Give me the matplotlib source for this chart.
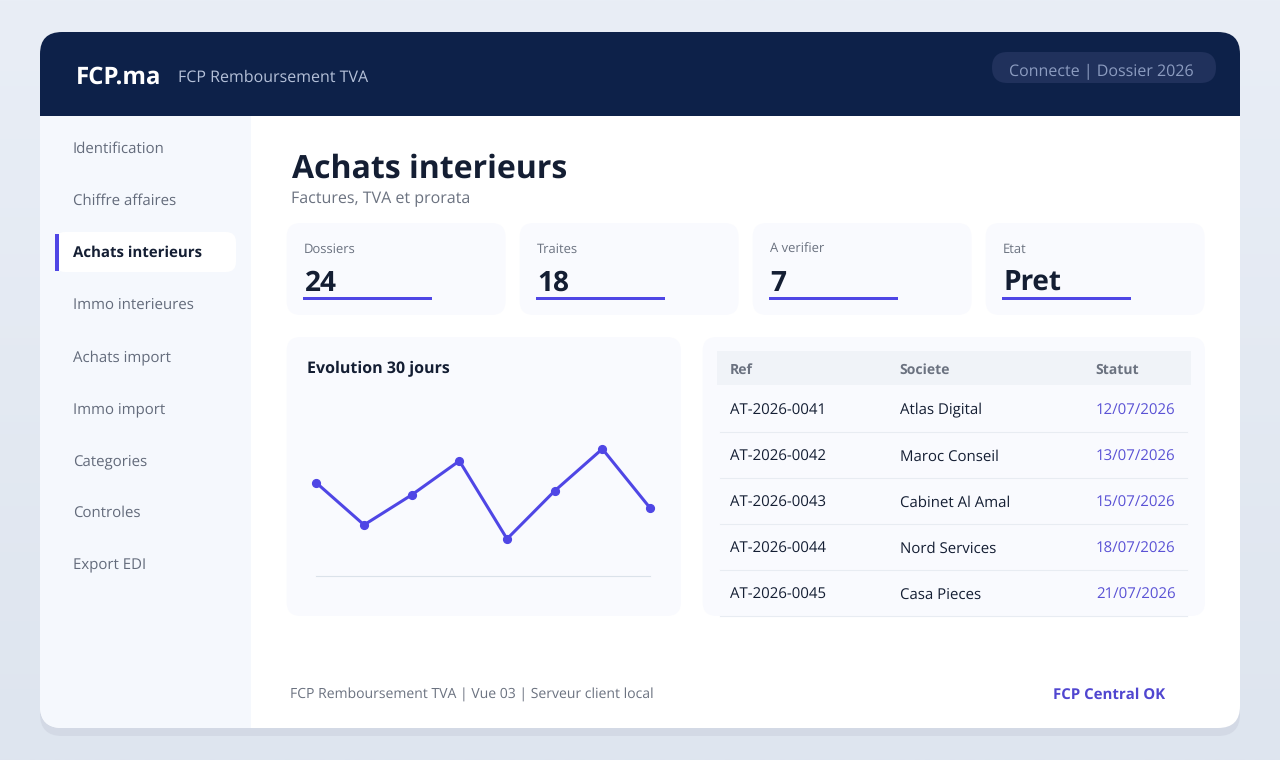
import numpy as np
import matplotlib
matplotlib.use('Agg')
import matplotlib.pyplot as plt
from matplotlib.patches import FancyBboxPatch, Rectangle

plt.rcParams['font.family'] = ['Open Sans', 'DejaVu Sans']
plt.rcParams['text.hinting'] = 'no_hinting'
plt.rcParams['text.hinting_factor'] = 1

# data
nav_items = ['Identification', 'Chiffre affaires', 'Achats interieurs', 'Immo interieures',
             'Achats import', 'Immo import', 'Categories', 'Controles', 'Export EDI']
active_nav = 'Achats interieurs'
kpi_labels = ['Dossiers', 'Traites', 'A verifier', 'Etat']
kpi_values = ['24', '18', '7', 'Pret']
days = [0, 1, 2, 3, 4, 5, 6, 7]
evolution = [93.5, 51.5, 81.5, 115.5, 37.5, 85.5, 127.5, 68.5]
table_head = ['Ref', 'Societe', 'Statut']
refs = ['AT-2026-0041', 'AT-2026-0042', 'AT-2026-0043', 'AT-2026-0044', 'AT-2026-0045']
societes = ['Atlas Digital', 'Maroc Conseil', 'Cabinet Al Amal', 'Nord Services', 'Casa Pieces']
dates = ['12/07/2026', '13/07/2026', '15/07/2026', '18/07/2026', '21/07/2026']

NAVY = '#0d2149'
INDIGO = '#4f46e5'
INK = '#141e33'
GREY = '#6b7280'
CARD = '#f9fafe'


def px(size):
    return size * 0.72


fig = plt.figure(figsize=(12.8, 7.6), dpi=100)
ax = fig.add_axes([0, 0, 1, 1])
ax.set_xlim(0, 1280)
ax.set_ylim(760, 0)
ax.axis('off')

# page background
grad = np.linspace(0, 1, 256).reshape(-1, 1)
top = np.array([0xe9, 0xee, 0xf6]) / 255
bot = np.array([0xde, 0xe5, 0xef]) / 255
ax.imshow(top + (bot - top) * grad[:, :, None], extent=[0, 1280, 760, 0], aspect='auto', zorder=0)
ax.set_xlim(0, 1280)
ax.set_ylim(760, 0)


def rbox(x, y, w, h, r, color, z=2):
    p = FancyBboxPatch((x + r, y + r), w - 2 * r, h - 2 * r, boxstyle='round,pad=%g,rounding_size=%g' % (r, r),
                       fc=color, ec='none', lw=0, zorder=z)
    ax.add_patch(p)
    return p


def label(x, y, s, color, size, bold=False, ha='left'):
    # y is the text baseline in pixels
    ax.text(x, y, s, color=color, fontsize=px(size), fontweight='bold' if bold else 'normal',
            va='baseline', ha=ha, zorder=7)


# shell
rbox(40, 40, 1200, 696, 22, '#d3d9e5', 1)
shell = rbox(40, 32, 1200, 696, 22, '#ffffff', 2)

side = Rectangle((40, 116), 211, 612, fc='#f5f8fd', ec='none', zorder=3)
ax.add_patch(side)
side.set_clip_path(shell)
head = Rectangle((40, 32), 1200, 84, fc=NAVY, ec='none', zorder=3)
ax.add_patch(head)
head.set_clip_path(shell)

# header
label(76, 83.5, 'FCP.ma', 'white', 24.4, True)
label(178, 82, 'FCP Remboursement TVA', '#b4c0d8', 16.25)
rbox(992, 52, 224, 31, 15.5, '#20315c', 4)
label(1101.5, 76, 'Connecte | Dossier 2026', '#8c9cc0', 15.6, ha='center')

# sidebar
rbox(55, 232, 181, 40, 10, '#ffffff', 4)
ax.add_patch(Rectangle((55, 234), 4, 37, fc=INDIGO, ec='none', zorder=5))
for i, name in enumerate(nav_items):
    on = name == active_nav
    label(73, 153 + 52 * i, name, INK if on else '#636b7b', 14.6, on)

# title
label(292, 177.5, 'Achats interieurs', INK, 32.4, True)
label(291, 203, 'Factures, TVA et prorata', GREY, 16.25)

# kpi cards
for i, (lab, val) in enumerate(zip(kpi_labels, kpi_values)):
    x = 286.6 + 233 * i
    rbox(x, 223, 219, 92, 14, CARD, 4)
    label(x + 17.4, 253, lab, GREY, 13.3)
    label(x + 18, 291, val, INK, 27.5, True)
    ax.add_patch(Rectangle((x + 15.9, 296.5), 129, 3, fc=INDIGO, ec='none', zorder=8))

# chart card
rbox(286.6, 337, 394.4, 279, 14, CARD, 4)
label(307, 372.7, 'Evolution 30 jours', INK, 16.2, True)

ch = fig.add_axes([316.4 / 1280, 1 - 576.4 / 760, 333.6 / 1280, 180 / 760])
ch.patch.set_alpha(0)
ch.plot(days, evolution, color=INDIGO, lw=2.2, marker='o', ms=5.6, clip_on=False, solid_joinstyle='miter')
ch.set_xlim(0, 7)
ch.set_ylim(0, 180)
ch.set_xticks([])
ch.set_yticks([])
for s in ['top', 'left', 'right']:
    ch.spines[s].set_visible(False)
ch.spines['bottom'].set_color('#dbe2ea')
ch.spines['bottom'].set_linewidth(0.8)

# table card
rbox(702.6, 337, 502.4, 279, 14, CARD, 4)
ax.add_patch(Rectangle((717, 351), 474, 34, fc='#f0f3f8', ec='none', zorder=5))
for x, name in zip([730, 899.5, 1095.5], table_head):
    label(x, 373.5, name, GREY, 13.6, True)
for i in range(len(refs)):
    y = 414.4 + 46 * i
    label(730, y, refs[i], INK, 14.55)
    label(900, y, societes[i], INK, 14.55)
    label(1096, y, dates[i], '#5a52d5', 14.5)
    ax.plot([720, 1187], [y + 17.6, y + 17.6], color='#e8ecf2', lw=0.8, zorder=6)

# footer
label(290, 698.4, 'FCP Remboursement TVA | Vue 03 | Serveur client local', GREY, 14.3)
label(1053, 698.5, 'FCP Central OK', '#5046d0', 15.45, True)

fig.savefig('out.png', dpi=100)
